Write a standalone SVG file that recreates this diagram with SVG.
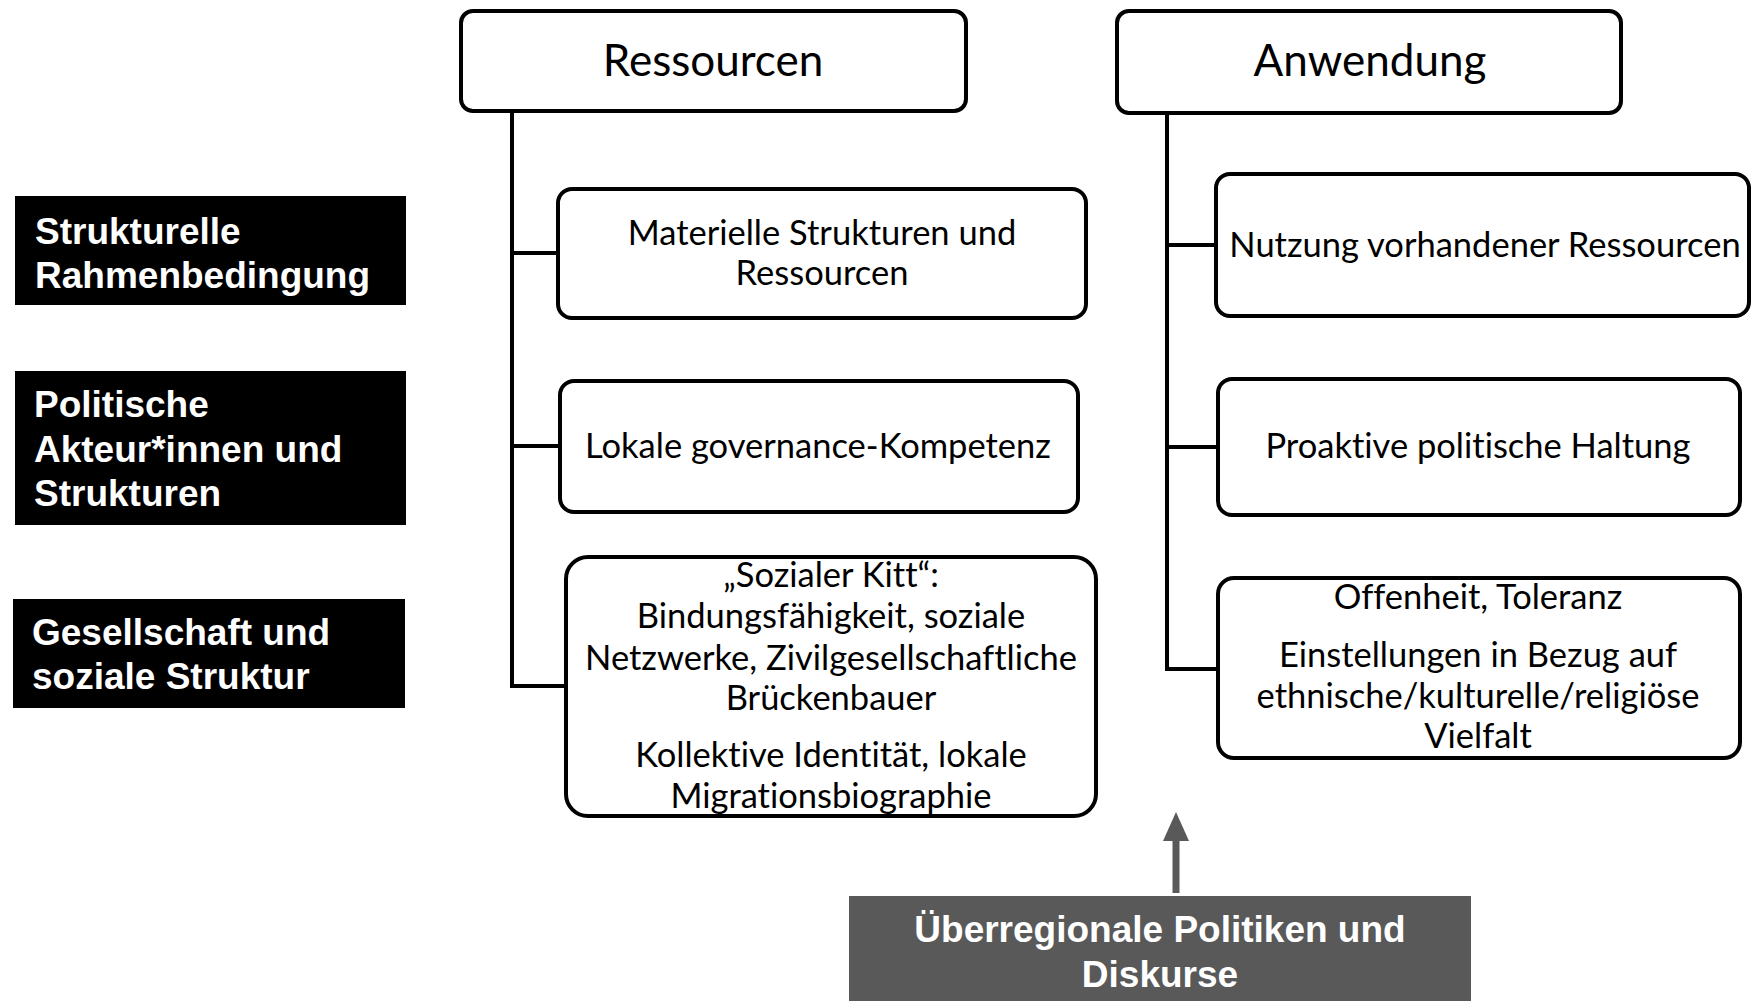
<svg xmlns="http://www.w3.org/2000/svg" width="1753" height="1001" viewBox="0 0 1753 1001">
<style>
.box{fill:#fff;stroke:#000;stroke-width:4}
.lbl{fill:#000;stroke:none}
.t{font-family:Lato,"Open Sans",sans-serif;fill:#000;text-anchor:middle;font-variant-ligatures:none;font-feature-settings:"liga" 0,"dlig" 0}
.h{font-size:44px}
.c{font-size:34.5px}
.w{font-family:"Liberation Sans",Arial,sans-serif;font-weight:bold;font-size:37px;fill:#fff}
.ln{fill:none;stroke:#000;stroke-width:4}
</style>
<rect width="1753" height="1001" fill="#fff"/>
<g id="connectors">
<path class="ln" d="M512,111 V686 H566 M512,253 H558 M512,446 H560"/>
<path class="ln" d="M1167,113 V669 H1218 M1167,245 H1216 M1167,447 H1218"/>
<rect x="1172.5" y="838" width="7" height="55" fill="#595959"/>
<polygon points="1176,812 1163,841 1189,841" fill="#595959"/>
</g>
<g id="lbl1"><rect class="lbl" x="15" y="196" width="391" height="109"/>
<text class="w" x="35" y="244">Strukturelle</text><text class="w" x="35" y="288">Rahmenbedingung</text></g>
<g id="lbl2"><rect class="lbl" x="15" y="371" width="391" height="154"/>
<text class="w" x="34" y="417">Politische</text><text class="w" x="34" y="462">Akteur*innen und</text><text class="w" x="34" y="506">Strukturen</text></g>
<g id="lbl3"><rect class="lbl" x="13" y="599" width="392" height="109"/>
<text class="w" x="32" y="645">Gesellschaft und</text><text class="w" x="32" y="689">soziale Struktur</text></g>
<g id="ressourcen"><rect class="box" x="461" y="11" width="505" height="100" rx="12"/>
<text class="t h" x="713" y="76">Ressourcen</text></g>
<g id="anwendung"><rect class="box" x="1117" y="11" width="504" height="102" rx="12"/>
<text class="t h" x="1370" y="76">Anwendung</text></g>
<g id="r1"><rect class="box" x="558" y="189" width="528" height="129" rx="14"/>
<text class="t c" x="822" y="245">Materielle Strukturen und</text><text class="t c" x="822" y="285">Ressourcen</text></g>
<g id="r2"><rect class="box" x="560" y="381" width="518" height="131" rx="14"/>
<text class="t c" x="818" y="458">Lokale governance-Kompetenz</text></g>
<g id="r3"><rect class="box" x="566" y="557" width="530" height="259" rx="22"/>
<text class="t c" x="831" y="587">„Sozialer Kitt“:</text>
<text class="t c" x="831" y="628">Bindungsfähigkeit, soziale</text>
<text class="t c" x="831" y="670">Netzwerke, Zivilgesellschaftliche</text>
<text class="t c" x="831" y="710">Brückenbauer</text>
<text class="t c" x="831" y="767">Kollektive Identität, lokale</text>
<text class="t c" x="831" y="808">Migrationsbiographie</text></g>
<g id="a1"><rect class="box" x="1216" y="174" width="533" height="142" rx="14"/>
<text class="t c" x="1485" y="257">Nutzung vorhandener Ressourcen</text></g>
<g id="a2"><rect class="box" x="1218" y="379" width="522" height="136" rx="14"/>
<text class="t c" x="1478" y="458">Proaktive politische Haltung</text></g>
<g id="a3"><rect class="box" x="1218" y="578" width="522" height="180" rx="16"/>
<text class="t c" x="1478" y="609">Offenheit, Toleranz</text>
<text class="t c" x="1478" y="667">Einstellungen in Bezug auf</text>
<text class="t c" x="1478" y="708">ethnische/kulturelle/religiöse</text>
<text class="t c" x="1478" y="748">Vielfalt</text></g>
<g id="ueber"><rect x="849" y="896" width="622" height="105" fill="#595959"/>
<text class="w" x="1160" y="942" text-anchor="middle">Überregionale Politiken und</text>
<text class="w" x="1160" y="987" text-anchor="middle">Diskurse</text></g>
</svg>
